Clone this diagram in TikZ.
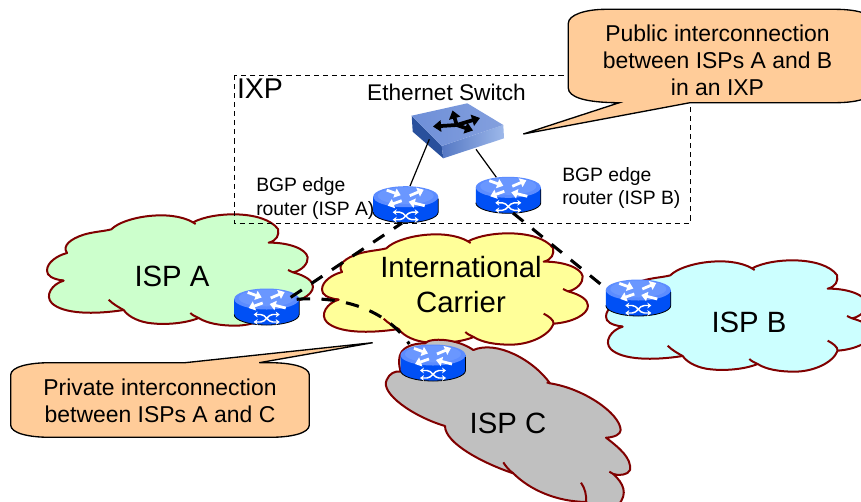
\documentclass[tikz,border=0pt]{standalone}
\usepackage{fontspec}
\setmainfont{Liberation Sans}
\usetikzlibrary{arrows.meta,shapes.geometric}
\definecolor{edgered}{HTML}{800000}
\definecolor{ispa}{HTML}{CCFFCC}
\definecolor{ispb}{HTML}{CCFFFF}
\definecolor{carrier}{HTML}{FFFF99}
\definecolor{ispc}{HTML}{C0C0C0}
\definecolor{callout}{HTML}{FFCC99}
\definecolor{rtop}{HTML}{5C8CFF}
\definecolor{rtopin}{HTML}{6A97FF}
\definecolor{rside}{HTML}{0050F5}
\definecolor{swtop}{HTML}{6E8FD8}
\definecolor{swleft}{HTML}{29509C}
\definecolor{swrighta}{HTML}{5578C4}
\definecolor{swrightb}{HTML}{9DB8EA}
\tikzset{
  cloudline/.style={draw=edgered,line width=1.5pt,line join=round},
  cloudunit/.style={x=.25pt,y=-.25pt},
  calloutshape/.style={draw=black,fill=callout,line width=1pt,line join=miter},
  routertop/.style={ellipse,inner sep=0pt,minimum width=48.75pt,minimum height=15.75pt,fill=rtop},
  linkdash/.style={draw=black,line width=2.3pt,dash pattern=on 10pt off 8.6pt},
  wire/.style={draw=black,line width=.9pt},
  ixpbox/.style={draw=black,line width=.75pt,dash pattern=on 3.8pt off 3pt},
  bigtext/.style={font=\fontsize{22}{26.3}\selectfont,align=center,inner sep=0pt},
  calltext/.style={font=\fontsize{17.2}{20.4}\selectfont,align=center,inner sep=0pt},
  smalltext/.style={font=\fontsize{14.5}{17.5}\selectfont,align=left,inner sep=0pt},
  rarrow/.style={draw=white,line width=2.1pt,-{Triangle[length=4.6pt,width=7pt]}},
  rcross/.style={draw=white,line width=1.1pt,{Stealth[length=3pt,width=4.4pt]}-{Stealth[length=3pt,width=4.4pt]}},
  swarrow/.style={draw=black,line width=2.8pt,-{Triangle[length=6pt,width=8.5pt]}},
}
\newcommand{\cloudfill}{
  (193,46) .. controls (230,8) and (370,-15) .. (438,25)
  .. controls (500,-8) and (650,-12) .. (693,45)
  .. controls (697,62) and (690,80) .. (665,86)
  .. controls (725,85) and (778,105) .. (782,130)
  .. controls (784,148) and (765,170) .. (738,175)
  .. controls (775,185) and (798,200) .. (798,218)
  .. controls (798,245) and (750,268) .. (695,272)
  .. controls (680,310) and (620,335) .. (565,335)
  .. controls (520,335) and (480,328) .. (455,312)
  .. controls (410,330) and (350,332) .. (315,328)
  .. controls (280,325) and (245,310) .. (230,288)
  .. controls (140,302) and (50,300) .. (15,268)
  .. controls (-8,245) and (15,210) .. (50,200)
  .. controls (15,195) and (0,185) .. (0,170)
  .. controls (0,145) and (30,125) .. (60,117)
  .. controls (45,95) and (70,75) .. (110,62)
  .. controls (140,53) and (170,52) .. (193,46) -- cycle
}
\newcommand{\cloudstubs}{
  (738,175) -- (723,168)
  (695,272) .. controls (695,260) and (680,250) .. (665,242)
  (455,312) .. controls (445,308) and (435,302) .. (430,297)
  (230,288) .. controls (215,280) and (195,268) .. (185,257)
  (50,200) -- (38,198)
  (438,25) -- (446,30)
}
\newcommand{\router}[2]{
  \begin{scope}[shift={(#2)}]
    \fill[rside] (-32.5,0) -- (-32.5,15.5) .. controls (-32.5,21.3) and (-18,26) .. (0,26)
      .. controls (18,26) and (32.5,21.3) .. (32.5,15.5) -- (32.5,0) -- cycle;
    \draw[black,line width=.6pt] (-32.5,15.5) .. controls (-32.5,21.3) and (-18,26) .. (0,26)
      .. controls (18,26) and (32.5,21.3) .. (32.5,15.5) -- (32.5,2);
    \node[routertop] (#1) at (0,0) {};
    \fill[rtopin] (0,-1) ellipse [x radius=28,y radius=8.5];
    \draw[rarrow] (-19,-6.6) -- (-5,-1.5);
    \draw[rarrow] (4,-1) -- (18,-7);
    \draw[rarrow] (-4,4) -- (-18,9);
    \draw[rarrow] (19,9) -- (3,5);
    \draw[rcross] (-13,15.5) -- (-6,15.5) .. controls (-1,15.5) and (1,23) .. (6,23) -- (13,23);
    \draw[rcross] (-13,23) -- (-6,23) .. controls (-1,23) and (1,15.5) .. (6,15.5) -- (13,15.5);
  \end{scope}
}
\begin{document}
\begin{tikzpicture}[x=.75pt,y=-.75pt]
\useasboundingbox (0,0) rectangle (861,501);
\clip (0,0) rectangle (861,501);
\fill[white] (0,0) rectangle (861,501);

% clouds
\begin{scope}[shift={(47,214)},cloudunit]
  \path[cloudline,fill=ispa] \cloudfill;
  \draw[cloudline] \cloudstubs;
\end{scope}
\begin{scope}[shift={(606,260)},cloudunit]
  \path[cloudline,fill=ispb] \cloudfill;
  \draw[cloudline] \cloudstubs;
\end{scope}
\begin{scope}[shift={(322,233)},cloudunit]
  \path[cloudline,fill=carrier] \cloudfill;
  \draw[cloudline] \cloudstubs;
\end{scope}
\begin{scope}[shift={(370,330)},cloudunit]
  \path[cloudline,fill=ispc]
    (95,65) .. controls (110,45) and (140,40) .. (165,40)
    .. controls (180,22) and (260,25) .. (310,60)
    .. controls (380,30) and (490,90) .. (540,160)
    .. controls (640,175) and (750,250) .. (752,300)
    .. controls (752,312) and (735,322) .. (708,323)
    .. controls (750,355) and (785,385) .. (780,420)
    .. controls (775,435) and (745,438) .. (730,432)
    .. controls (760,460) and (775,490) .. (745,525)
    -- (650,525) -- (650,516)
    .. controls (560,515) and (480,480) .. (430,430)
    .. controls (340,400) and (225,340) .. (225,288)
    .. controls (130,260) and (30,190) .. (50,150)
    .. controls (58,130) and (75,122) .. (92,125)
    .. controls (85,100) and (85,80) .. (95,65) -- cycle;
  \draw[cloudline]
    (430,430) .. controls (415,420) and (405,405) .. (400,397)
    (648,516) .. controls (650,495) and (645,475) .. (633,458)
    (540,160) -- (530,157)
    (730,432) -- (718,425);
\end{scope}

% IXP box
\draw[ixpbox] (234,75) rectangle (690,223.5);

% text on clouds
\node[bigtext] (lA) at (172,276) {ISP A};
\node[bigtext] (lB) at (749,322) {ISP B};
\node[bigtext] (lC) at (508,423) {ISP C};
\node[bigtext] (lI) at (461,284.5) {International\\Carrier};
\node[bigtext,font=\fontsize{21.4}{25}\selectfont] (lX) at (260,88.5) {IXP};
\node[font=\fontsize{17}{20}\selectfont,inner sep=0pt] (lE) at (446.5,92) {Ethernet Switch};

% switch
\coordinate (swL) at (429.3,139.3);
\coordinate (swR) at (476,149.3);
\fill[swleft] (411.7,115.7) -- (441.7,146) -- (443.3,158.3) -- (412.7,131.7) -- cycle;
\shade[left color=swrighta,right color=swrightb] (441.7,146) -- (503.3,125) -- (504,138.3) -- (443.3,158.3) -- cycle;
\shade[left color=swtop,right color=swtop!85!white] (411.7,115.7) -- (467.3,103.3) -- (503.3,125) -- (441.7,146) -- cycle;
\draw[swarrow] (456.7,125) -- (433,126.5);
\draw[swarrow] (456.7,125) -- (480,118);
\draw[swarrow] (456.7,125) -- (452.5,110.5);
\draw[swarrow] (456.7,125) -- (473,130.5);

% routers
\router{rIXA}{405.7,196.7}
\router{rIXB}{508.3,187.3}
\router{rA}{266.7,299}
\router{rB}{638.3,290}
\router{rC}{433,355}

% labels on routers
\node[smalltext,anchor=west] (lba) at (256,198.5) {BGP edge\\router (ISP A)};
\node[smalltext,anchor=west] (lbb) at (562,188) {BGP edge\\router (ISP B)};

% wires
\draw[wire] (swL) -- (rIXA.68);
\draw[wire] (swR) -- (rIXB.140);

% dashed links
\draw[linkdash] ([shift={(24,-1.7)}]rA.center) -- ([shift={(-3.7,26.3)}]rIXA.center);
\draw[linkdash] ([shift={(30,0.3)}]rA.center) .. controls (340,296) and (385,308) .. ([shift={(-23.7,-11)}]rC.center);
\draw[linkdash] ([shift={(4.7,25.7)}]rIXB.center) -- ([shift={(-33.3,-2.3)}]rB.center);

% callouts
\path[calloutshape] (568.3,23.3) .. controls (568.3,15) and (585,9.3) .. (606,9.3) -- (835,9.3)
  .. controls (860,9.3) and (875,15) .. (875,24) -- (875,88)
  .. controls (875,97) and (860,102.7) .. (835,102.7) -- (690,102.7) -- (523.3,134) -- (619.3,102.7)
  .. controls (585,102.7) and (568.3,97) .. (568.3,88) -- cycle;
\path[calloutshape] (10.7,375) .. controls (10.7,367) and (28,362.7) .. (50,362.7) -- (185,362.7)
  -- (372.7,342.7) -- (259.3,362.7) -- (270,362.7)
  .. controls (292,362.7) and (309.3,367) .. (309.3,375) -- (309.3,425)
  .. controls (309.3,433) and (292,437.3) .. (270,437.3) -- (50,437.3)
  .. controls (28,437.3) and (10.7,433) .. (10.7,425) -- cycle;
\node[calltext] (c1) at (717.5,60.5) {Public interconnection\\between ISPs A and B\\in an IXP};
\node[calltext] (c2) at (160,400.5) {Private interconnection\\between ISPs A and C};
\end{tikzpicture}
\end{document}
